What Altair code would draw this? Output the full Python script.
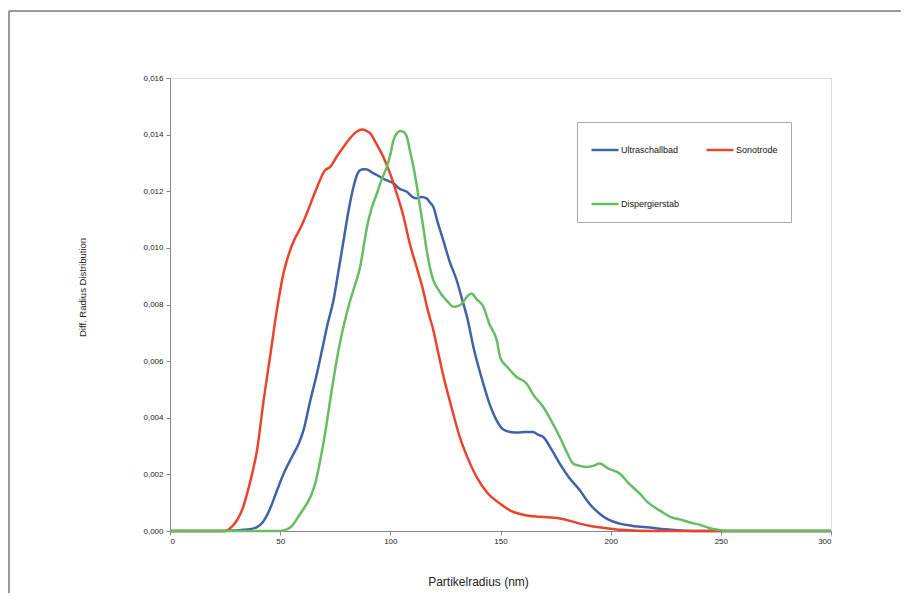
import altair as alt
import pandas as pd

# ---- data ----
# legend order (column-major grid): Ultraschallbad, Dispergierstab, Sonotrode
series_names = ["Ultraschallbad", "Dispergierstab", "Sonotrode"]
series_colors = ["#4262a8", "#66bd62", "#e8452c"]
draw_order = ["Ultraschallbad", "Sonotrode", "Dispergierstab"]

x_ultra = [0, 25, 30, 35, 39.5, 42, 44, 46, 48.6, 52, 56.1, 58.5, 60.6, 63.7, 66.5, 69, 71.5,
           74.2, 76.5, 78.8, 81, 83.3, 85, 86.3, 88, 89.4, 92, 95.4, 98, 101.4, 104, 107.5, 110,
           112, 114, 116.5, 118, 119.5, 121.5, 124, 127, 130.1, 132.5, 134.7, 138, 142.2, 145,
           148.3, 151, 154.3, 158, 161, 164.8, 167, 169.4, 173, 176.9, 181, 186, 190, 195, 199,
           204.1, 210, 217.7, 225, 232, 240, 300]
y_ultra = [0, 0, 0.00002, 0.00005, 0.00014, 0.0003, 0.00055, 0.0009, 0.00144, 0.0021, 0.00273,
           0.0031, 0.00356, 0.00462, 0.0055, 0.00639, 0.0073, 0.00815, 0.0092, 0.01027, 0.0113,
           0.01216, 0.0126, 0.01275, 0.01278, 0.01277, 0.01265, 0.01251, 0.0124, 0.01228, 0.0121,
           0.01198, 0.0118, 0.01175, 0.0118, 0.01175, 0.0116, 0.01145, 0.0109, 0.01027, 0.0095,
           0.00886, 0.0082, 0.0076, 0.0064, 0.0052, 0.0045, 0.0039, 0.0036, 0.0035, 0.00348,
           0.0035, 0.0035, 0.0034, 0.00332, 0.0029, 0.00238, 0.0019, 0.00144, 0.001, 0.00061,
           0.0004, 0.00026, 0.00018, 0.00012, 0.00006, 0.00002, 0, 0]

x_sono = [0, 25, 26, 28, 30.4, 33, 35, 37.2, 39.5, 42.5, 45.5, 48.5, 51.5, 54, 56.5, 59.2, 62,
          66, 70.4, 72.7, 75.5, 78.8, 82, 85, 87.1, 89, 90.8, 93.5, 96.8, 100, 102.9, 106, 109,
          112, 114.9, 117, 119.5, 122, 124, 128, 131.6, 135, 139.2, 144, 149.7, 155, 161.8, 168,
          176.9, 182, 186, 192, 198, 205, 212, 225, 300]
y_sono = [0, 0, 0.00002, 0.00015, 0.00038, 0.0008, 0.00132, 0.002, 0.00285, 0.00462, 0.0062,
          0.0078, 0.0091, 0.0098, 0.0103, 0.0107, 0.0112, 0.012, 0.01274, 0.01286, 0.0132,
          0.01357, 0.0139, 0.01412, 0.01418, 0.01414, 0.01405, 0.0137, 0.01322, 0.0126, 0.01192,
          0.0111, 0.0101, 0.0093, 0.0085, 0.0078, 0.0071, 0.0062, 0.0055, 0.0043, 0.0033, 0.0026,
          0.0019, 0.00135, 0.00097, 0.0007, 0.00055, 0.0005, 0.00044, 0.00035, 0.00026, 0.00016,
          0.0001, 0.00004, 0.00001, 0, 0]

x_disp = [0, 50, 52, 55, 59.1, 63.7, 66, 68.2, 70.5, 72.7, 74.5, 76.5, 79, 81.8, 84, 86.3, 88,
          89.4, 91.5, 93.9, 96, 98.4, 100, 101.4, 103, 104.4, 106, 107.5, 109, 110.5, 112, 113.5,
          115, 116.5, 118, 119.5, 122, 124, 126, 128.6, 131, 133.1, 135, 136.9, 139, 142.2, 145,
          148.3, 150, 153, 157.3, 161.8, 165, 169.4, 173, 176.9, 180, 183, 186, 189, 192, 195,
          199, 204.1, 208, 213.2, 217, 222.2, 227, 232.8, 236, 240.4, 245, 250, 255, 300]
y_disp = [0, 0, 0.00003, 0.00015, 0.00061, 0.0012, 0.0017, 0.0025, 0.0035, 0.00462, 0.0055,
          0.00639, 0.0073, 0.00815, 0.0087, 0.00933, 0.0101, 0.01074, 0.0114, 0.01192, 0.0124,
          0.01286, 0.0133, 0.0138, 0.01405, 0.01413, 0.0141, 0.01392, 0.0134, 0.01286, 0.0122,
          0.01145, 0.0107, 0.00992, 0.0093, 0.00886, 0.0085, 0.00827, 0.0081, 0.00792, 0.00795,
          0.00809, 0.0083, 0.00839, 0.0082, 0.00792, 0.0073, 0.00674, 0.0061, 0.0058, 0.00544,
          0.00521, 0.0048, 0.00438, 0.0039, 0.00332, 0.0028, 0.00238, 0.0023, 0.00226, 0.0023,
          0.00238, 0.0022, 0.00203, 0.0017, 0.00132, 0.001, 0.00073, 0.0005, 0.00038, 0.0003,
          0.00022, 0.0001, 0.00003, 0, 0]

x_ticks = [0, 50, 100, 150, 200, 250, 300]
y_ticks = [0, 0.002, 0.004, 0.006, 0.008, 0.010, 0.012, 0.014, 0.016]

# ---- table ----
frames = []
for name, xs, ys in [("Ultraschallbad", x_ultra, y_ultra),
                     ("Sonotrode", x_sono, y_sono),
                     ("Dispergierstab", x_disp, y_disp)]:
    frames.append(pd.DataFrame({"r": xs, "d": ys, "series": name}))
df = pd.concat(frames, ignore_index=True)

FONT = "Liberation Sans"

x_enc = alt.X("r:Q", scale=alt.Scale(domain=[0, 300], nice=False),
              axis=alt.Axis(values=x_ticks, title="Partikelradius (nm)", grid=False,
                            labelFontSize=8, labelColor="#222", tickColor="#888",
                            domainColor="#888", tickSize=4, labelPadding=2,
                            titleFontSize=12, titleFontWeight="normal", titleColor="#222",
                            titleX=308, titleY=50, titleBaseline="middle"))
y_enc = alt.Y("d:Q", scale=alt.Scale(domain=[0, 0.016], nice=False),
              axis=alt.Axis(values=y_ticks, title="Diff. Radius Distribution", grid=False,
                            labelExpr="replace(format(datum.value, '.3f'), '.', ',')",
                            labelFontSize=8, labelColor="#222", tickColor="#888",
                            domainColor="#888", tickSize=4, labelPadding=3,
                            titleFontSize=9.5, titleFontWeight="normal", titleColor="#222",
                            titleX=-88, titleY=209, titleAngle=-90, titleAlign="center",
                            titleBaseline="middle"))
color_enc = alt.Color("series:N",
                      scale=alt.Scale(domain=series_names, range=series_colors),
                      legend=alt.Legend(orient="none", legendX=407, legendY=44, columns=2,
                                        title=None, symbolType="stroke", symbolSize=729,
                                        symbolStrokeWidth=2.5, labelFontSize=9, labelFont=FONT,
                                        labelColor="#111", padding=13, strokeColor="#aaa",
                                        fillColor="white", columnPadding=21, rowPadding=34,
                                        labelOffset=1, labelLimit=200))

layers = []
for name in draw_order:
    layers.append(
        alt.Chart(df).transform_filter(alt.datum.series == name)
        .mark_line(strokeWidth=2.5, interpolate="monotone")
        .encode(x=x_enc, y=y_enc, color=color_enc)
    )

frame_df = pd.DataFrame({"a": [0]})
top_line = alt.Chart(frame_df).mark_rule(color="#777", strokeWidth=1.5).encode(
    x=alt.value(-161), x2=alt.value(742), y=alt.value(-67))
left_line = alt.Chart(frame_df).mark_rule(color="#777", strokeWidth=1.5).encode(
    x=alt.value(-161), y=alt.value(-67), y2=alt.value(540))

chart = alt.layer(top_line, left_line, *layers).properties(
    width=661, height=453,
    autosize=alt.AutoSizeParams(type="none"),
    padding={"left": 162, "top": 70, "right": 70, "bottom": 62},
).configure_view(stroke="#999", strokeWidth=1).configure(
    font=FONT, background="white")

chart.save("out.html", embed_options={"renderer": "svg", "actions": False})
